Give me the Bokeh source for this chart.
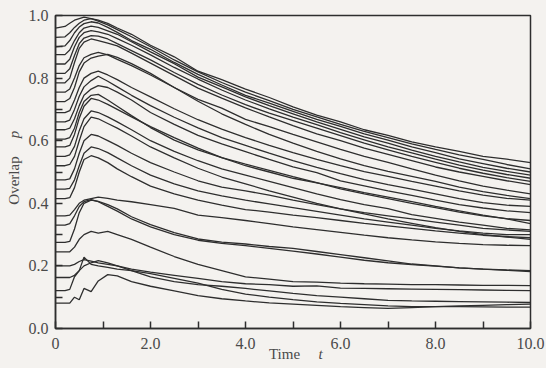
import math
from bokeh.plotting import figure
from bokeh.layouts import column, row
from bokeh.models import ColumnDataSource, FixedTicker, Range1d
from bokeh.core.properties import value
from bokeh.embed import file_html
from bokeh.resources import INLINE

# time grid shared by all curves
t_grid = [0, 0.2, 0.3, 0.4, 0.5, 0.6, 0.75, 0.9, 1.1, 1.3, 1.6, 2.0, 2.5, 3.0, 3.5,
          4.0, 4.5, 5.0, 5.5, 6.0, 6.5, 7.0, 7.5, 8.0, 8.5, 9.0, 9.5, 10.0]

curve_01 = [0.96, 0.965, 0.975, 0.985, 0.99, 0.995, 0.99, 0.985, 0.975, 0.96, 0.94, 0.905, 0.868, 0.822, 0.795, 0.765, 0.738, 0.708, 0.682, 0.66, 0.635, 0.617, 0.596, 0.58, 0.566, 0.55, 0.541, 0.53]
curve_02 = [0.93, 0.932, 0.945, 0.962, 0.975, 0.985, 0.99, 0.982, 0.97, 0.955, 0.932, 0.9, 0.858, 0.82, 0.786, 0.755, 0.728, 0.7, 0.676, 0.652, 0.63, 0.61, 0.59, 0.572, 0.555, 0.54, 0.524, 0.51]
curve_03 = [0.9, 0.903, 0.92, 0.945, 0.963, 0.974, 0.98, 0.976, 0.962, 0.946, 0.92, 0.892, 0.85, 0.812, 0.778, 0.745, 0.72, 0.694, 0.668, 0.646, 0.622, 0.602, 0.58, 0.562, 0.542, 0.527, 0.512, 0.5]
curve_04 = [0.875, 0.875, 0.89, 0.92, 0.945, 0.96, 0.966, 0.962, 0.951, 0.94, 0.916, 0.884, 0.846, 0.803, 0.772, 0.74, 0.712, 0.686, 0.66, 0.636, 0.612, 0.592, 0.57, 0.55, 0.532, 0.515, 0.502, 0.49]
curve_05 = [0.845, 0.845, 0.86, 0.9, 0.93, 0.945, 0.952, 0.948, 0.94, 0.926, 0.905, 0.874, 0.834, 0.797, 0.762, 0.73, 0.702, 0.675, 0.651, 0.626, 0.603, 0.58, 0.561, 0.541, 0.522, 0.506, 0.492, 0.48]
curve_06 = [0.815, 0.815, 0.83, 0.872, 0.91, 0.928, 0.936, 0.934, 0.925, 0.91, 0.888, 0.858, 0.818, 0.78, 0.746, 0.715, 0.688, 0.664, 0.64, 0.616, 0.592, 0.571, 0.55, 0.531, 0.512, 0.496, 0.482, 0.47]
curve_07 = [0.785, 0.785, 0.8, 0.85, 0.895, 0.915, 0.925, 0.92, 0.912, 0.903, 0.88, 0.848, 0.808, 0.768, 0.736, 0.705, 0.676, 0.648, 0.622, 0.6, 0.576, 0.556, 0.536, 0.516, 0.5, 0.486, 0.472, 0.46]
curve_08 = [0.755, 0.755, 0.765, 0.8, 0.84, 0.865, 0.876, 0.882, 0.874, 0.86, 0.84, 0.81, 0.77, 0.732, 0.704, 0.668, 0.645, 0.62, 0.596, 0.572, 0.55, 0.531, 0.51, 0.49, 0.472, 0.455, 0.442, 0.43]
curve_09 = [0.725, 0.725, 0.735, 0.77, 0.82, 0.848, 0.864, 0.87, 0.876, 0.866, 0.846, 0.815, 0.77, 0.726, 0.686, 0.652, 0.62, 0.592, 0.566, 0.542, 0.52, 0.502, 0.486, 0.47, 0.452, 0.437, 0.425, 0.415]
curve_10 = [0.69, 0.69, 0.696, 0.73, 0.77, 0.8, 0.815, 0.822, 0.81, 0.795, 0.77, 0.74, 0.702, 0.667, 0.637, 0.61, 0.585, 0.562, 0.54, 0.52, 0.501, 0.486, 0.47, 0.455, 0.44, 0.426, 0.416, 0.41]
curve_11 = [0.66, 0.66, 0.666, 0.7, 0.742, 0.772, 0.792, 0.806, 0.79, 0.772, 0.745, 0.712, 0.675, 0.641, 0.61, 0.585, 0.56, 0.536, 0.515, 0.495, 0.476, 0.46, 0.445, 0.43, 0.415, 0.402, 0.394, 0.39]
curve_12 = [0.635, 0.635, 0.64, 0.67, 0.712, 0.745, 0.765, 0.776, 0.77, 0.755, 0.73, 0.69, 0.652, 0.617, 0.59, 0.565, 0.54, 0.516, 0.498, 0.472, 0.456, 0.44, 0.425, 0.41, 0.396, 0.385, 0.376, 0.37]
curve_13 = [0.605, 0.605, 0.61, 0.64, 0.69, 0.725, 0.745, 0.748, 0.73, 0.71, 0.68, 0.642, 0.602, 0.571, 0.546, 0.525, 0.505, 0.485, 0.466, 0.446, 0.43, 0.415, 0.4, 0.386, 0.372, 0.36, 0.351, 0.345]
curve_14 = [0.58, 0.58, 0.585, 0.62, 0.672, 0.71, 0.735, 0.73, 0.716, 0.7, 0.676, 0.645, 0.61, 0.576, 0.546, 0.52, 0.5, 0.48, 0.465, 0.45, 0.434, 0.42, 0.405, 0.39, 0.376, 0.362, 0.35, 0.335]
curve_15 = [0.55, 0.55, 0.555, 0.582, 0.632, 0.67, 0.695, 0.69, 0.676, 0.66, 0.635, 0.6, 0.566, 0.536, 0.51, 0.49, 0.47, 0.45, 0.43, 0.412, 0.396, 0.383, 0.364, 0.352, 0.34, 0.33, 0.32, 0.315]
curve_16 = [0.52, 0.52, 0.524, 0.55, 0.6, 0.645, 0.675, 0.67, 0.655, 0.64, 0.615, 0.58, 0.545, 0.512, 0.484, 0.462, 0.44, 0.42, 0.4, 0.382, 0.366, 0.35, 0.336, 0.322, 0.31, 0.3, 0.292, 0.285]
curve_17 = [0.475, 0.475, 0.478, 0.51, 0.56, 0.6, 0.62, 0.615, 0.6, 0.585, 0.56, 0.53, 0.5, 0.472, 0.452, 0.44, 0.426, 0.41, 0.396, 0.382, 0.37, 0.36, 0.35, 0.34, 0.33, 0.32, 0.315, 0.31]
curve_18 = [0.445, 0.445, 0.448, 0.475, 0.52, 0.56, 0.58, 0.575, 0.562, 0.545, 0.52, 0.49, 0.462, 0.44, 0.424, 0.41, 0.398, 0.386, 0.374, 0.362, 0.35, 0.34, 0.33, 0.32, 0.312, 0.305, 0.3, 0.3]
curve_19 = [0.415, 0.415, 0.418, 0.45, 0.5, 0.54, 0.552, 0.545, 0.53, 0.51, 0.485, 0.455, 0.43, 0.41, 0.394, 0.38, 0.372, 0.362, 0.354, 0.345, 0.336, 0.328, 0.32, 0.312, 0.305, 0.298, 0.294, 0.29]
curve_20 = [0.36, 0.36, 0.362, 0.38, 0.4, 0.41, 0.415, 0.42, 0.416, 0.41, 0.405, 0.396, 0.384, 0.362, 0.354, 0.345, 0.335, 0.325, 0.316, 0.307, 0.298, 0.29, 0.283, 0.277, 0.272, 0.268, 0.266, 0.265]
curve_21 = [0.33, 0.33, 0.335, 0.36, 0.39, 0.405, 0.412, 0.405, 0.39, 0.375, 0.35, 0.325, 0.3, 0.282, 0.272, 0.265, 0.256, 0.247, 0.238, 0.228, 0.218, 0.21, 0.204, 0.199, 0.194, 0.19, 0.186, 0.182]
curve_22 = [0.275, 0.275, 0.278, 0.318, 0.37, 0.4, 0.41, 0.406, 0.396, 0.382, 0.357, 0.332, 0.306, 0.286, 0.276, 0.27, 0.262, 0.256, 0.246, 0.236, 0.226, 0.216, 0.206, 0.2, 0.194, 0.19, 0.187, 0.185]
curve_23 = [0.245, 0.245, 0.245, 0.26, 0.285, 0.3, 0.31, 0.305, 0.31, 0.3, 0.285, 0.26, 0.23, 0.205, 0.185, 0.165, 0.158, 0.15, 0.148, 0.145, 0.143, 0.142, 0.14, 0.14, 0.139, 0.138, 0.138, 0.137]
curve_24 = [0.2, 0.2, 0.2, 0.205, 0.214, 0.22, 0.215, 0.21, 0.205, 0.2, 0.19, 0.18, 0.17, 0.16, 0.15, 0.143, 0.14, 0.135, 0.136, 0.129, 0.128, 0.127, 0.126, 0.125, 0.124, 0.123, 0.122, 0.121]
curve_25 = [0.163, 0.163, 0.163, 0.17, 0.185, 0.2, 0.21, 0.217, 0.21, 0.2, 0.185, 0.165, 0.15, 0.14, 0.135, 0.128, 0.12, 0.112, 0.105, 0.1, 0.095, 0.09, 0.088, 0.087, 0.086, 0.085, 0.084, 0.083]
curve_26 = [0.121, 0.121, 0.125, 0.165, 0.185, 0.228, 0.205, 0.2, 0.195, 0.19, 0.185, 0.175, 0.16, 0.145, 0.125, 0.11, 0.1, 0.092, 0.085, 0.08, 0.076, 0.072, 0.07, 0.07, 0.07, 0.069, 0.068, 0.068]
curve_27 = [0.081, 0.081, 0.081, 0.1, 0.092, 0.128, 0.118, 0.152, 0.172, 0.168, 0.15, 0.135, 0.12, 0.105, 0.095, 0.088, 0.082, 0.078, 0.074, 0.07, 0.067, 0.064, 0.067, 0.07, 0.072, 0.074, 0.076, 0.078]

curves = [curve_01, curve_02, curve_03, curve_04, curve_05, curve_06, curve_07, curve_08, curve_09,
          curve_10, curve_11, curve_12, curve_13, curve_14, curve_15, curve_16, curve_17, curve_18,
          curve_19, curve_20, curve_21, curve_22, curve_23, curve_24, curve_25, curve_26, curve_27]

x_ticks = [0, 2, 4, 6, 8, 10]
x_tick_labels = ["0", "2.0", "4.0", "6.0", "8.0", "10.0"]
x_minor = [1, 3, 5, 7, 9]
y_ticks = [0.0, 0.2, 0.4, 0.6, 0.8, 1.0]
y_tick_labels = ["0.0", "0.2", "0.4", "0.6", "0.8", "1.0"]
y_minor = [0.1, 0.3, 0.5, 0.7, 0.9]
x_title = "Time"
x_symbol = "t"
y_title = "Overlap"
y_symbol = "p"

BG = "#f4f2ef"
INK = "#2e2e2e"
TXT = "#4a4a4a"
SERIF = "'Liberation Serif'"

# page geometry (pixels)
W, H = 546, 368
FRAME_L, FRAME_R, FRAME_T, FRAME_B = 55, 530, 15, 328
LEFT_W = 50                      # strip holding the y tick labels and y title
MAIN_W = W - LEFT_W
MAIN_H = FRAME_B + 3
BOTTOM_H = H - MAIN_H            # strip holding the x tick labels and x title
PX_X = (FRAME_R - FRAME_L) / 10.0
PX_Y = (FRAME_B - FRAME_T) / 1.0

p = figure(width=MAIN_W, height=MAIN_H, output_backend="svg", toolbar_location=None,
           x_range=Range1d(0, 10), y_range=Range1d(0, 1.0),
           min_border_left=FRAME_L - LEFT_W, min_border_right=W - FRAME_R,
           min_border_top=FRAME_T, min_border_bottom=MAIN_H - FRAME_B)
p.frame_align = False
p.background_fill_color = BG
p.border_fill_color = BG
p.outline_line_color = INK
p.outline_line_width = 1.5
p.xgrid.grid_line_color = None
p.ygrid.grid_line_color = None

src = ColumnDataSource(dict(xs=[t_grid] * len(curves), ys=curves))
p.multi_line(xs="xs", ys="ys", source=src, line_color=INK, line_width=1.3)

for ax, ticks, minor in ((p.xaxis[0], x_ticks, x_minor), (p.yaxis[0], y_ticks, y_minor)):
    ax.ticker = FixedTicker(ticks=ticks, minor_ticks=minor)
    ax.axis_line_color = INK
    ax.axis_line_width = 1.5
    ax.major_tick_line_color = INK
    ax.minor_tick_line_color = INK
    ax.major_tick_line_width = 1.5
    ax.minor_tick_line_width = 1.5
    ax.major_tick_in = 7
    ax.major_tick_out = 0
    ax.minor_tick_in = 7
    ax.minor_tick_out = 0
    # tick labels are set in serif type in the side strips (same scales)
    ax.major_label_overrides = {t: "" for t in ticks}
    ax.major_label_standoff = 0
    ax.major_label_text_font_size = "1px"


def strip(w, h, xr, yr):
    f = figure(width=w, height=h, output_backend="svg", toolbar_location=None,
               x_range=xr, y_range=yr, x_axis_type=None, y_axis_type=None,
               min_border=0, min_border_left=0, min_border_right=0,
               min_border_top=0, min_border_bottom=0)
    f.frame_align = False
    f.background_fill_color = BG
    f.border_fill_color = BG
    f.outline_line_color = None
    return f


# left strip: x in pixels, y on the same scale as the main plot
ls = strip(LEFT_W, H, Range1d(0, LEFT_W),
           Range1d((FRAME_B - H) / PX_Y, FRAME_B / PX_Y))
ls.text(x=[48] * len(y_ticks), y=y_ticks, text=y_tick_labels,
        text_font=value(SERIF), text_font_size="16px", text_color=TXT,
        text_align="right", text_baseline="middle")
ls.text(x=[13], y=[(FRAME_B - 180) / PX_Y], text=[y_title], angle=math.pi / 2,
        text_font=value(SERIF), text_font_size="15px", text_color=TXT,
        text_align="center", text_baseline="middle")
ls.text(x=[13], y=[(FRAME_B - 134) / PX_Y], text=[y_symbol], angle=math.pi / 2,
        text_font=value(SERIF), text_font_size="15px", text_font_style="italic",
        text_color=TXT, text_align="center", text_baseline="middle")

# bottom strip: x on the same scale as the main plot, y in pixels from its top
bs = strip(MAIN_W, BOTTOM_H,
           Range1d((LEFT_W - FRAME_L) / PX_X, (W - FRAME_L) / PX_X),
           Range1d(BOTTOM_H, 0))
bs.text(x=x_ticks, y=[343 - MAIN_H] * len(x_ticks), text=x_tick_labels,
        text_font=value(SERIF), text_font_size="16px", text_color=TXT,
        text_align="center", text_baseline="alphabetic")
bs.text(x=[(284 - FRAME_L) / PX_X], y=[353 - MAIN_H], text=[x_title],
        text_font=value(SERIF), text_font_size="15px", text_color=TXT,
        text_align="center", text_baseline="middle")
bs.text(x=[(320 - FRAME_L) / PX_X], y=[353 - MAIN_H], text=[x_symbol],
        text_font=value(SERIF), text_font_size="15px", text_font_style="italic",
        text_color=TXT, text_align="center", text_baseline="middle")

layout = row(ls, column(p, bs, spacing=0), spacing=0)
layout.styles = {"background-color": BG}

open("out.html", "w").write(file_html(layout, INLINE))
